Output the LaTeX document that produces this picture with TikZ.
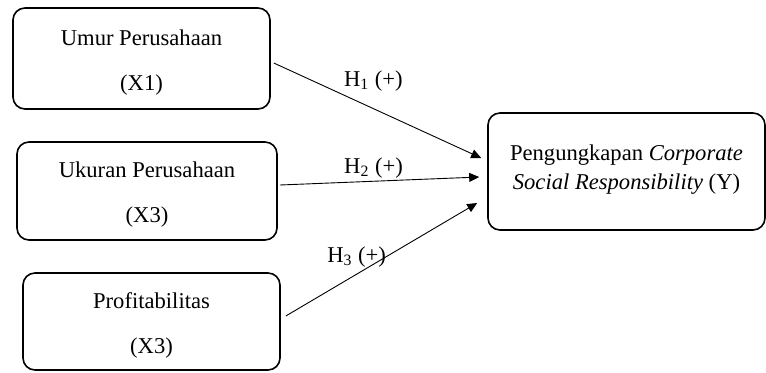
\documentclass[tikz,border=0pt]{standalone}
\usepackage{fontspec}
\setmainfont{Liberation Serif}
\usetikzlibrary{arrows.meta}
\usetikzlibrary{calc}
\tikzset{var/.style = {draw, rounded corners = 6pt, line width = 0.8pt, align = center, inner sep = 0, minimum height = 50pt}}
\tikzset{hyp/.style = {-{Triangle[length = 5pt, width = 4.5pt]}, line width = 0.45pt}}

\begin{document}
\begin{tikzpicture}[x = 1pt, y = 1pt, font = \fontsize{11.3}{15}\selectfont]
      \useasboundingbox (0, 0) rectangle (383, -186);
      \node [var, minimum width = 128.5pt, minimum height = 50.5pt] (umur) at (70.75, -29.25) {\raisebox{-2pt}[\height][\depth]{\shortstack{Umur Perusahaan\\[11.5pt](X1)}}};
      \node [var, minimum width = 130pt, minimum height = 49pt] (ukuran) at (73.5, -95.5) {\raisebox{-2pt}[\height][\depth]{\shortstack{Ukuran Perusahaan\\[11.5pt](X3)}}};
      \node [var, minimum width = 128.5pt, minimum height = 48.5pt] (profit) at (75.75, -160.75) {\raisebox{-2pt}[\height][\depth]{\shortstack{Profitabilitas\\[11.5pt](X3)}}};
      \node [var, minimum width = 138.5pt, minimum height = 58.5pt] (csr) at (313.25, -85.75) {\raisebox{1pt}[\height][\depth]{\shortstack{Pengungkapan \textit{Corporate}\\[1.5pt]\textit{Social Responsibility} (Y)}}};

      \draw [hyp] ($(umur.east) + (1.5, -2.25)$) -- node [pos = 0.48, above = 5pt] {H\textsubscript{1} (+)} ($(csr.west) + (-3, 6.75)$);
      \draw [hyp] ($(ukuran.east) + (1, 3)$) -- node [pos = 0.47, above = -2pt] {H\textsubscript{2} (+)} ($(csr.west) + (-4, -2.75)$);
      \draw [hyp] ($(profit.east) + (2.5, 2.75)$) -- node [pos = 0.37, above = 0pt] {H\textsubscript{3} (+)} ($(csr.west) + (-5, -15.75)$);

    \end{tikzpicture}
\end{document}
